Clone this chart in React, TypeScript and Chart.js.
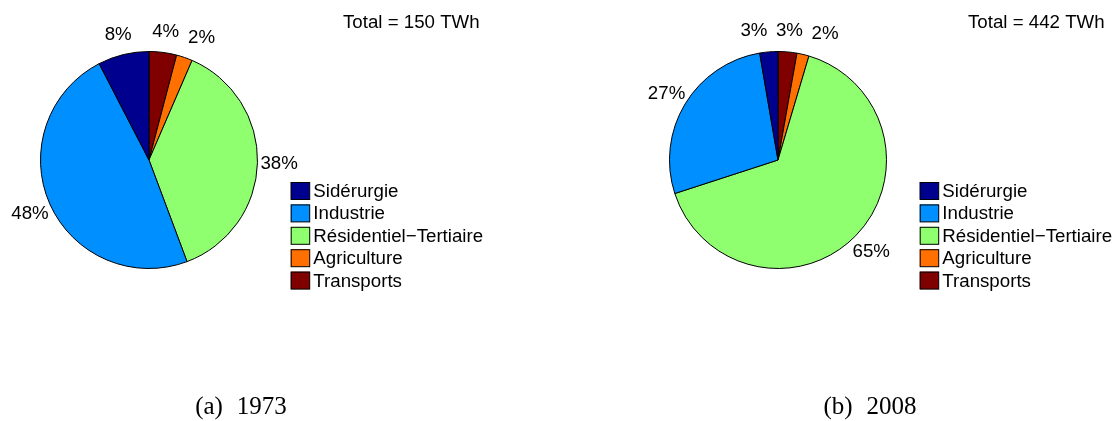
import React, { useEffect, useRef } from "react";
import { Chart, registerables } from "chart.js";

Chart.register(...registerables);

const categories = ["Sidérurgie", "Industrie", "Résidentiel\u2212Tertiaire", "Agriculture", "Transports"];
const colors = ["#00008f", "#008fff", "#8fff70", "#ff7000", "#800000"];
const values1973 = [7.6, 48.1, 37.8, 2.4, 4.1];
const values2008 = [2.7, 27.3, 65.4, 1.8, 2.8];
const totals = ["Total = 150 TWh", "Total = 442 TWh"];
const captionTags = ["(a)", "(b)"];
const captionYears = ["1973", "2008"];

const SANS = '"Liberation Sans", Arial, Helvetica, sans-serif';
const SERIF = '"Liberation Serif", "Times New Roman", serif';
const FS = 18.7;

type PieProps = {
  values: number[];
  total: string;
  tag: string;
  year: string;
  totalX: number;
  left: number;
};

function PieChart({ values, total, tag, year, totalX, left }: PieProps) {
  const ref = useRef<HTMLCanvasElement | null>(null);
  useEffect(() => {
    if (!ref.current) return;
    const sum = values.reduce((a, b) => a + b, 0);
    // chart draws clockwise from top: reverse the category order (MATLAB goes counter-clockwise)
    const idx = categories.map((_, i) => i).reverse();
    const data = idx.map((i) => values[i]);
    const bg = idx.map((i) => colors[i]);
    const pctLabels = idx.map((i) => Math.round((values[i] / sum) * 100) + "%");

    const overlay = {
      id: "overlay",
      afterDraw(chart: any) {
        const ctx = chart.ctx;
        const meta = chart.getDatasetMeta(0);
        ctx.save();
        ctx.fillStyle = "#000";
        ctx.font = `${FS}px ${SANS}`;
        ctx.textBaseline = "middle";
        ctx.textAlign = "left";
        // percentage labels
        const placed: { x0: number; x1: number; y: number }[] = [];
        const pad = 8;
        const h = 14;
        meta.data.forEach((arc: any, k: number) => {
          const mid = (arc.startAngle + arc.endAngle) / 2;
          const R = arc.outerRadius * 1.2;
          const cx = arc.x + R * Math.cos(mid);
          const cy = arc.y + R * Math.sin(mid) + 1;
          const w = ctx.measureText(pctLabels[k]).width;
          let x0 = cx - w / 2;
          const dir = Math.cos(mid) >= 0 ? 1 : -1;
          let guard = 0;
          const hits = () =>
            placed.some((p) => Math.abs(p.y - cy) < h && x0 < p.x1 + pad && x0 + w > p.x0 - pad);
          while (hits() && guard < 200) {
            x0 += dir;
            guard++;
          }
          placed.push({ x0, x1: x0 + w, y: cy });
          ctx.fillText(pctLabels[k], x0, cy);
        });
        // total text
        ctx.fillText(total, totalX, 22.5);
        // legend
        const cx0 = meta.data[0].x;
        const bx = cx0 + 141.7;
        categories.forEach((c, i) => {
          const by = 182 + 22.4 * i;
          ctx.fillStyle = colors[i];
          ctx.fillRect(bx, by, 19, 17.5);
          ctx.strokeStyle = "#000";
          ctx.lineWidth = 1;
          ctx.strokeRect(bx + 0.5, by + 0.5, 18.5, 17);
          ctx.fillStyle = "#000";
          ctx.fillText(c, bx + 22.6, by + 9.8);
        });
        // caption
        ctx.font = `25px ${SERIF}`;
        ctx.textBaseline = "alphabetic";
        const w1 = ctx.measureText(tag).width;
        const w2 = ctx.measureText(year).width;
        const gap = 14;
        const start = 241 - (w1 + gap + w2) / 2;
        ctx.fillText(tag, start, 414);
        ctx.fillText(year, start + w1 + gap, 414);
        ctx.restore();
      },
    };

    const chart = new Chart(ref.current, {
      type: "pie",
      data: {
        labels: idx.map((i) => categories[i]),
        datasets: [
          {
            data,
            backgroundColor: bg,
            borderColor: "#000",
            borderWidth: 1,
          },
        ],
      },
      options: {
        responsive: false,
        animation: false,
        layout: { padding: { left: 40, right: 488 - 258, top: 51, bottom: 421 - 269 } },
        plugins: { legend: { display: false }, tooltip: { enabled: false } },
      },
      plugins: [overlay],
    });
    return () => chart.destroy();
  }, [values, total, tag, year, totalX]);
  return (
    <canvas
      ref={ref}
      width={488}
      height={421}
      style={{ position: "absolute", left, top: 0, width: 488, height: 421 }}
    />
  );
}

export default function App() {
  return (
    <div
      style={{
        position: "absolute",
        left: 0,
        top: 0,
        width: 1117,
        height: 421,
        background: "#fff",
        overflow: "hidden",
      }}
    >
      <PieChart values={values1973} total={totals[0]} tag={captionTags[0]} year={captionYears[0]} totalX={343} left={0} />
      <PieChart values={values2008} total={totals[1]} tag={captionTags[1]} year={captionYears[1]} totalX={339} left={629} />
    </div>
  );
}
